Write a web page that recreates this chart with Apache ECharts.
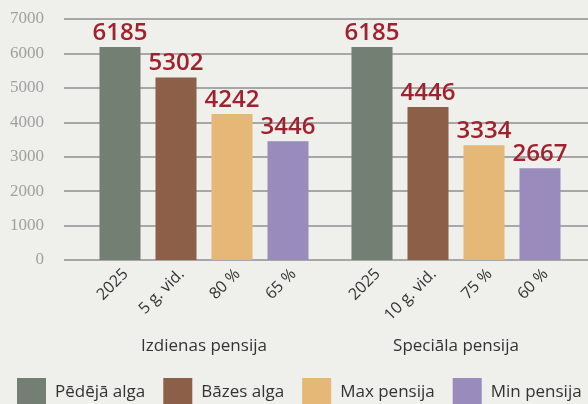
<!DOCTYPE html>
<html>
<head>
<meta charset="utf-8">
<script src="https://cdn.jsdelivr.net/npm/echarts@6/dist/echarts.min.js"></script>
<style>
  html, body { margin: 0; padding: 0; background: #efefeb; overflow: hidden; }
  #chart { width: 610px; height: 404px; }
</style>
</head>
<body>
<div id="chart"></div>
<script>
  // grupas un stabiņu nosaukumi
  const groupNames = ['Izdienas pensija', 'Speciāla pensija'];
  const izdienasLabels = ['2025', '5 g. vid.', '80 %', '65 %'];
  const specialaLabels = ['2025', '10 g. vid.', '75 %', '60 %'];
  const seriesNames = ['Pēdējā alga', 'Bāzes alga', 'Max pensija', 'Min pensija'];
  const izdienasValues = [6185, 5302, 4242, 3446];
  const specialaValues = [6185, 4446, 3334, 2667];
  const yTicks = [0, 1000, 2000, 3000, 4000, 5000, 6000, 7000];

  const colors = ['#737f72', '#8c5f48', '#e5b878', '#998bbc'];

  // katram stabiņam sava vieta uz ass, starp tiem tukšas vietas
  const slotCount = 20;
  const groupStart = [2, 11];
  const groupLabels = [izdienasLabels, specialaLabels];
  const groupValues = [izdienasValues, specialaValues];

  let categories = new Array(slotCount).fill('');
  let groupAxis = new Array(slotCount).fill('');
  groupLabels.forEach((labels, g) => {
    labels.forEach((l, i) => { categories[groupStart[g] + i * 2] = l; });
    groupAxis[groupStart[g] + 3] = groupNames[g];
  });

  const series = seriesNames.map((name, i) => {
    let data = new Array(slotCount).fill(null);
    groupValues.forEach((vals, g) => { data[groupStart[g] + i * 2] = vals[i]; });
    return {
      name: name,
      type: 'bar',
      data: data,
      barWidth: 41,
      barGap: '-100%',
      itemStyle: { color: colors[i] },
      label: {
        show: true,
        position: 'top',
        distance: 2,
        color: '#a0222e',
        fontFamily: 'Open Sans',
        fontWeight: 600,
        fontSize: 24
      }
    };
  });

  const chart = echarts.init(document.getElementById('chart'));
  chart.setOption({
    backgroundColor: '#efefeb',
    animation: false,
    grid: { left: 64, top: 19, width: 532, bottom: 144 },
    legend: {
      left: 17,
      top: 378,
      padding: 0,
      itemWidth: 29,
      itemHeight: 29,
      itemGap: 18,
      icon: 'rect',
      textStyle: { fontFamily: 'Open Sans', fontSize: 17, color: '#333', padding: [0, 0, 0, 4] },
      data: seriesNames
    },
    xAxis: [{
      type: 'category',
      data: categories,
      boundaryGap: false,
      axisLine: { show: false },
      axisTick: { show: false },
      axisLabel: {
        interval: 0,
        rotate: 45,
        margin: 6,
        verticalAlign: 'top',
        fontFamily: 'Open Sans',
        fontSize: 16,
        color: '#333'
      }
    }, {
      type: 'category',
      data: groupAxis,
      position: 'bottom',
      boundaryGap: false,
      axisLine: { show: false },
      axisTick: { show: false },
      axisLabel: {
        interval: 0,
        margin: 78,
        fontFamily: 'Open Sans',
        fontSize: 17,
        color: '#333'
      }
    }],
    yAxis: {
      type: 'value',
      min: yTicks[0],
      max: yTicks[yTicks.length - 1],
      interval: 1000,
      axisLine: { show: false },
      axisTick: { show: false },
      splitLine: { lineStyle: { color: '#a7a7a7', width: 2 } },
      axisLabel: {
        margin: 20,
        formatter: v => String(v),
        fontFamily: 'Liberation Serif',
        fontSize: 17,
        color: '#a0a0a0'
      }
    },
    series: series
  });
</script>
</body>
</html>
